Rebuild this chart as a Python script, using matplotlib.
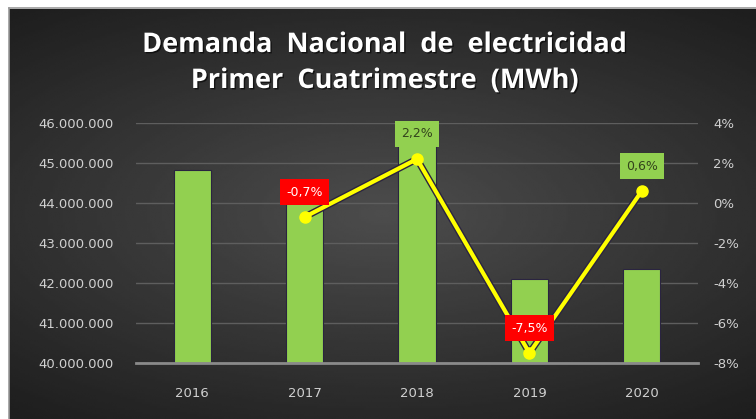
import numpy as np
import matplotlib.pyplot as plt
import matplotlib.patheffects as pe

# data
years = ["2016", "2017", "2018", "2019", "2020"]
demanda = [44830000, 44520000, 45500000, 42090000, 42340000]
variacion = [None, -0.7, 2.2, -7.5, 0.6]
left_ticks = [40e6, 41e6, 42e6, 43e6, 44e6, 45e6, 46e6]
right_ticks = [-8, -6, -4, -2, 0, 2, 4]

fig = plt.figure(figsize=(7.56, 4.19), dpi=100)
fig.patch.set_facecolor("white")

# dark gradient background
bg = fig.add_axes([9 / 756, 0, 1 - 9 / 756, 1 - 9 / 419])
yy, xx = np.mgrid[-1:1:200j, -1:1:300j]
r = np.sqrt((xx * 0.9) ** 2 + (yy * 1.1) ** 2)
bg.imshow(0.30 - 0.13 * np.clip(r, 0, 1.4), cmap="gray", vmin=0, vmax=1,
          aspect="auto", extent=[0, 1, 0, 1], interpolation="bilinear")
bg.set_axis_off()
fig.add_artist(plt.Line2D([8.5 / 756, 8.5 / 756], [0, 1 - 8.5 / 419],
                          color="#9a9a9a", lw=1.2, transform=fig.transFigure))
fig.add_artist(plt.Line2D([8.5 / 756, 1], [1 - 8.5 / 419, 1 - 8.5 / 419],
                          color="#9a9a9a", lw=1.2, transform=fig.transFigure))

ax = fig.add_axes([136 / 756, 1 - 363 / 419, 562 / 756, 240 / 419])
ax.patch.set_alpha(0)
x = np.arange(len(years))
ax.bar(x, [d - 40e6 for d in demanda], bottom=40e6, width=0.33,
       color="#92D050", edgecolor="#2a2440", linewidth=0.8, zorder=3)
ax.set_xlim(-0.5, len(years) - 0.5)
ax.set_ylim(40e6, 46e6)
ax.set_yticks(left_ticks)
ax.set_yticklabels([f"{int(v):,}".replace(",", ".") for v in left_ticks])
ax.set_xticks(x)
ax.set_xticklabels(years)
ax.grid(axis="y", color="#5e5e5e", lw=1, zorder=0)
for s in ["top", "right", "left"]:
    ax.spines[s].set_visible(False)
ax.spines["bottom"].set_color("#8a8a8a")
ax.spines["bottom"].set_linewidth(2)
ax.spines["bottom"].set_zorder(4)
ax.tick_params(axis="both", length=0, colors="#d0d0d0", labelsize=9.5)
ax.tick_params(axis="y", pad=16)
ax.tick_params(axis="x", pad=17)

ax2 = ax.twinx()
ax2.set_ylim(-8, 4)
ax2.set_yticks(right_ticks)
ax2.set_yticklabels([f"{v}%" for v in right_ticks])
ax2.tick_params(axis="y", length=0, colors="#d0d0d0", labelsize=9.5, pad=11)
for s in ax2.spines.values():
    s.set_visible(False)

lx = [i for i, v in enumerate(variacion) if v is not None]
ly = [v for v in variacion if v is not None]
shadow = [pe.Stroke(linewidth=5, foreground="#2a2440"), pe.Normal()]
ax2.plot(lx, ly, color="#FFFF00", lw=3, path_effects=shadow, zorder=5)
ax2.plot(lx, ly, ls="none", marker="o", ms=8, markerfacecolor="#FFFF00",
         markeredgecolor="#FFFF00", zorder=5)

for i, v in zip(lx, ly):
    txt = f"{v:.1f}%".replace(".", ",")
    if v < 0:
        fc, tc = "#FF0000", "white"
    else:
        fc, tc = "#92D050", "#33431c"
    ax2.annotate(txt, (i, v), xytext=(0, 18), textcoords="offset points",
                 ha="center", va="center", fontsize=9, color=tc, zorder=6,
                 bbox=dict(boxstyle="square,pad=0.5", fc=fc, ec="none"))

title_fx = [pe.withSimplePatchShadow(offset=(1, -1), shadow_rgbFace="black", alpha=0.6)]
fig.text(0.509, 1 - 45 / 419, "Demanda  Nacional  de  electricidad", ha="center",
         va="center", fontsize=19.5, fontweight="bold", color="white",
         family="Open Sans", path_effects=title_fx)
fig.text(0.509, 1 - 81 / 419, "Primer  Cuatrimestre  (MWh)", ha="center",
         va="center", fontsize=19.5, fontweight="bold", color="white",
         family="Open Sans", path_effects=title_fx)

fig.savefig("out.png", dpi=100)
